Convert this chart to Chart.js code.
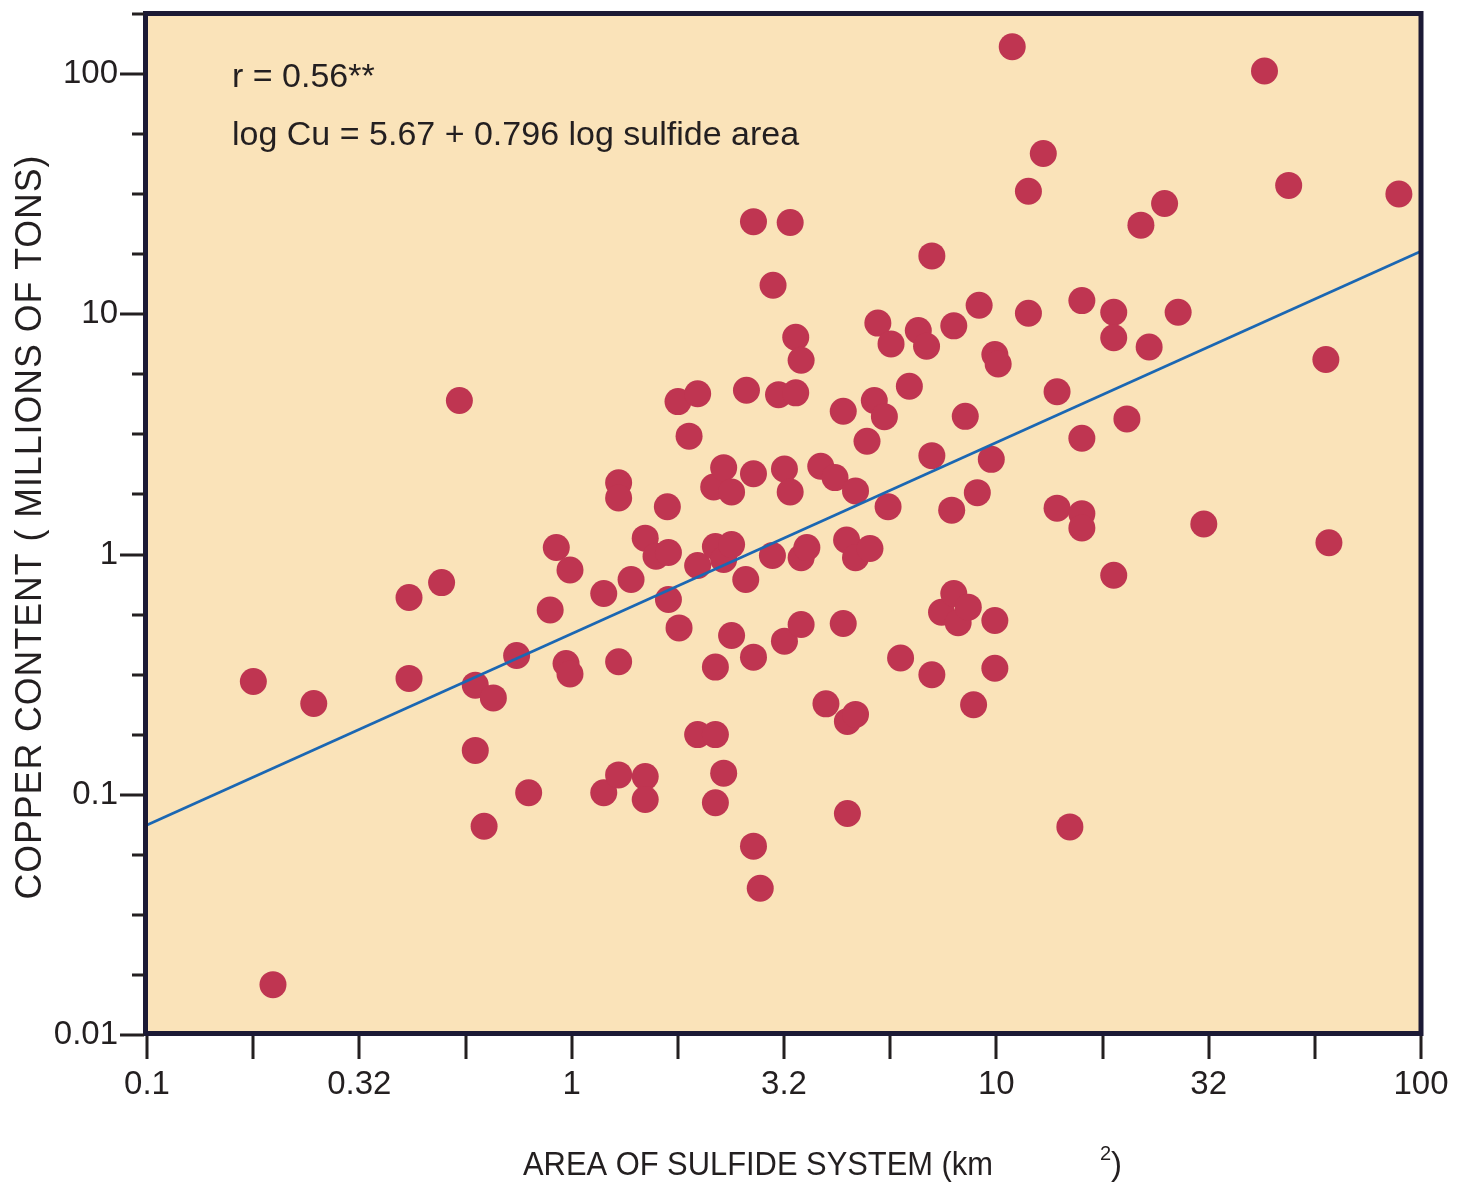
<!DOCTYPE html>
<html>
<head>
<meta charset="utf-8">
<title>Copper content vs. area of sulfide system</title>
<style>
  html, body { margin: 0; padding: 0; background: #ffffff; }
  canvas { display: block; }
</style>
<script src="https://cdn.jsdelivr.net/npm/chart.js@4.4.1/dist/chart.umd.min.js"></script>
</head>
<body>
<canvas id="chart" width="1470" height="1182"></canvas>
<script>
// Area of each sulfide system (km²)
const areaKm2 = [
  0.178, 0.198, 0.247, 0.414, 0.414, 0.494, 0.544, 0.593, 0.593, 0.622,
  0.654, 0.742, 0.792, 0.890, 0.920, 0.970, 0.991, 0.991, 1.19, 1.19,
  1.29, 1.29, 1.29, 1.29, 1.38, 1.49, 1.49, 1.49, 1.58, 1.69,
  1.68, 1.69, 1.78, 1.79, 1.89, 1.98, 1.98, 1.98, 2.16, 2.18,
  2.18, 2.18, 2.18, 2.28, 2.28, 2.28, 2.38, 2.38, 2.38, 2.57,
  2.58, 2.68, 2.68, 2.68, 2.68, 2.78, 2.98, 2.97, 3.07, 3.17,
  3.17, 3.27, 3.27, 3.37, 3.37, 3.47, 3.47, 3.47, 3.58, 3.86,
  3.97, 4.17, 4.36, 4.36, 4.44, 4.46, 4.46, 4.66, 4.66, 4.66,
  4.96, 5.04, 5.16, 5.26, 5.45, 5.56, 5.65, 5.95, 6.24, 6.55,
  6.85, 7.05, 7.05, 7.05, 7.43, 7.85, 7.94, 7.94, 8.13, 8.45,
  8.59, 8.84, 9.02, 9.11, 9.73, 9.92, 9.92, 9.92, 10.1, 10.9,
  11.9, 11.9, 12.9, 13.9, 13.9, 14.9, 15.9, 15.9, 15.9, 15.9,
  18.9, 18.9, 18.9, 20.3, 21.9, 22.9, 24.9, 26.8, 30.8, 42.8,
  48.8, 59.7, 60.7, 88.7
];

// Copper content of the same systems (millions of tons)
const copperMt = [
  0.296, 0.0162, 0.240, 0.662, 0.305, 0.764, 4.38, 0.286, 0.153, 0.074,
  0.253, 0.380, 0.102, 0.588, 1.07, 0.352, 0.862, 0.318, 0.688, 0.102,
  1.99, 1.72, 0.358, 0.121, 0.787, 1.17, 0.119, 0.0955, 0.984, 1.02,
  1.58, 0.650, 4.33, 0.495, 3.11, 4.67, 0.900, 0.178, 1.91, 1.08,
  0.340, 0.0926, 0.178, 2.30, 0.953, 0.123, 1.82, 1.10, 0.460, 0.787,
  4.83, 24.3, 2.17, 0.374, 0.0611, 0.0408, 13.2, 0.990, 4.63, 2.27,
  0.436, 24.1, 1.82, 8.03, 4.71, 6.44, 0.969, 0.511, 1.07, 2.33,
  0.239, 2.09, 3.95, 0.516, 1.15, 0.202, 0.0836, 1.84, 0.969, 0.216,
  2.96, 1.06, 4.38, 9.19, 3.75, 1.58, 7.53, 0.371, 5.02, 8.56,
  7.36, 17.5, 2.58, 0.316, 0.575, 1.53, 8.95, 0.688, 0.520, 3.76,
  0.604, 0.237, 1.81, 10.9, 2.49, 6.80, 0.531, 0.336, 6.21, 130,
  32.5, 10.1, 46.7, 4.76, 1.56, 0.0735, 11.4, 3.05, 1.48, 1.29,
  10.2, 7.99, 0.820, 3.67, 23.5, 7.31, 28.9, 10.2, 1.34, 103,
  34.4, 6.48, 1.12, 31.7
];

// Axis labels (one per half decade on x, one per decade on y)
const xTickLabels = ['0.1', '0.32', '1', '3.2', '10', '32', '100'];
const yTickLabels = ['0.01', '0.1', '1', '10', '100'];

// Regression: log Cu (tons) = intercept + slope * log area (km²)
const fitIntercept = 5.67;
const fitSlope = 0.796;
const fitR = 0.56;

const xRange = [0.1, 100];
const yRange = [0.01, Math.pow(10, 2.25)];

const FONT = '"Liberation Sans", Arial, Helvetica, sans-serif';
const INK = '#231f20';
const FRAME = '#1c1a35';

// tick marks every quarter decade
const quarterDecades = (lo, hi) => {
  const out = [];
  const a = Math.round(Math.log10(lo) * 4), b = Math.round(Math.log10(hi) * 4);
  for (let k = a; k <= b; k++) out.push(Math.pow(10, k / 4));
  return out;
};
const xTickValues = quarterDecades(xRange[0], xRange[1]);
const yTickValues = quarterDecades(yRange[0], yRange[1]);

const points = areaKm2.map((x, i) => ({ x, y: copperMt[i] }));

// fitted line, converted from tons to millions of tons
const fitAt = (a) => Math.pow(10, fitIntercept - 6 + fitSlope * Math.log10(a));
const fitLine = xRange.map(a => ({ x: a, y: fitAt(a) }));

// keep the plot box fixed: no extra room for overhanging tick labels
const noOverhang = (s) => {
  s.paddingLeft = 0; s.paddingRight = 0; s.paddingTop = 0; s.paddingBottom = 0;
};

const decor = {
  id: 'decor',
  beforeDraw(chart) {
    const { ctx, chartArea: a } = chart;
    ctx.save();
    ctx.fillStyle = '#fae3b9';
    ctx.fillRect(a.left - 2, a.top, a.right - a.left + 2, a.bottom - a.top - 1);
    ctx.restore();
  },
  afterDatasetsDraw(chart) {
    const { ctx, chartArea: a, scales } = chart;
    ctx.save();

    // frame
    ctx.strokeStyle = FRAME;
    ctx.lineWidth = 5;
    ctx.strokeRect(a.left - 1.5, a.top - 0.5, a.right - a.left + 1.5, a.bottom - a.top - 1);

    // tick marks
    ctx.strokeStyle = INK;
    ctx.lineWidth = 3;
    ctx.beginPath();
    scales.x.ticks.forEach((t) => {
      const px = Math.round(scales.x.getPixelForValue(t.value));
      ctx.moveTo(px, a.bottom + 1);
      ctx.lineTo(px, a.bottom + 24);
    });
    scales.y.ticks.forEach((t, i) => {
      const py = Math.round(scales.y.getPixelForValue(t.value));
      const len = (i % 4 === 0) ? 24 : 12;
      ctx.moveTo(a.left - 3 - len, py);
      ctx.lineTo(a.left - 3, py);
    });
    ctx.stroke();

    // statistics
    ctx.fillStyle = INK;
    ctx.textAlign = 'left';
    ctx.textBaseline = 'alphabetic';
    ctx.font = '34px ' + FONT;
    ctx.fillText('r = ' + fitR.toFixed(2) + '**', 232, 87, 146);
    ctx.fillText('log Cu = ' + fitIntercept.toFixed(2) + ' + ' + fitSlope.toFixed(3) + ' log sulfide area', 232, 145, 569);

    // x-axis title
    ctx.font = '33px ' + FONT;
    ctx.fillText('AREA OF SULFIDE SYSTEM (km', 523, 1175, 470);
    ctx.font = '20px ' + FONT;
    ctx.fillText('2', 1100, 1160);
    ctx.font = '33px ' + FONT;
    ctx.fillText(')', 1111, 1175);

    // y-axis title
    ctx.translate(41, 527);
    ctx.rotate(-Math.PI / 2);
    ctx.textAlign = 'center';
    ctx.font = '36px ' + FONT;
    if ('letterSpacing' in ctx) ctx.letterSpacing = '1px';
    ctx.fillText('COPPER CONTENT ( MILLIONS OF TONS)', 0, 0, 745);

    ctx.restore();
  }
};

new Chart(document.getElementById('chart'), {
  type: 'scatter',
  data: {
    datasets: [
      {
        type: 'line',
        data: fitLine,
        showLine: true,
        borderColor: '#1b67b3',
        borderWidth: 2.7,
        pointRadius: 0,
        fill: false,
        tension: 0,
        order: 0
      },
      {
        data: points,
        backgroundColor: '#bf3551',
        borderWidth: 0,
        pointRadius: 13.5,
        order: 1
      }
    ]
  },
  options: {
    responsive: false,
    animation: false,
    devicePixelRatio: 1,
    events: [],
    layout: { padding: { top: 14, right: 49, left: 0, bottom: 0 } },
    plugins: { legend: { display: false }, tooltip: { enabled: false } },
    scales: {
      x: {
        type: 'logarithmic',
        position: 'bottom',
        min: xRange[0],
        max: xRange[1],
        grid: { display: false, drawTicks: false },
        border: { display: false },
        afterBuildTicks: (s) => { s.ticks = xTickValues.map(v => ({ value: v })); },
        afterFit: (s) => { s.height = 147; noOverhang(s); },
        ticks: {
          autoSkip: false,
          maxRotation: 0,
          minRotation: 0,
          padding: 30,
          color: INK,
          font: { family: FONT, size: 33 },
          callback: (v, i) => (i % 2 === 0 ? xTickLabels[i / 2] : '')
        }
      },
      y: {
        type: 'logarithmic',
        position: 'left',
        min: yRange[0],
        max: yRange[1],
        grid: { display: false, drawTicks: false },
        border: { display: false },
        afterBuildTicks: (s) => { s.ticks = yTickValues.map(v => ({ value: v })); },
        afterFit: (s) => { s.width = 147; noOverhang(s); },
        ticks: {
          autoSkip: false,
          padding: 29,
          color: INK,
          font: { family: FONT, size: 33 },
          callback: (v, i) => (i % 4 === 0 ? (yTickLabels[i / 4] || '') : '')
        }
      }
    }
  },
  plugins: [decor]
});
</script>
</body>
</html>
